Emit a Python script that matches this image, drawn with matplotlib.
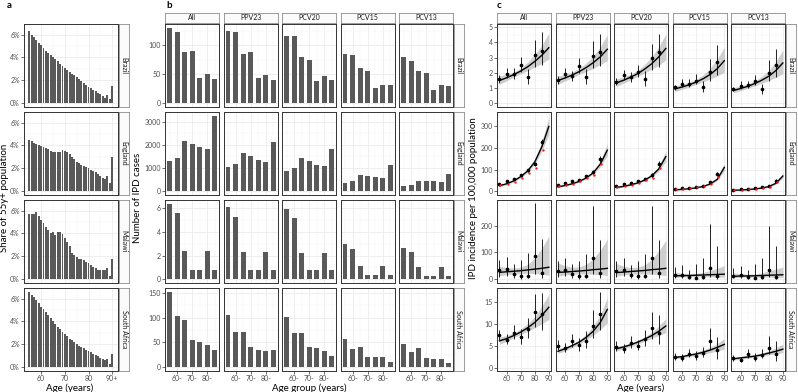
import matplotlib
matplotlib.use("Agg")
import matplotlib.pyplot as plt
import numpy as np

plt.rcParams['font.family'] = ['Lato', 'DejaVu Sans']

# ---- panel a: share of 55y+ population by single year of age ----
ages_a = list(range(55, 91))
share_brazil = [6.3, 6.0, 5.75, 5.5, 5.3, 5.1, 4.85, 4.6, 4.4, 4.2, 4.0, 3.85, 3.65, 3.45, 3.3, 3.1, 2.95, 2.75,
                2.6, 2.45, 2.3, 2.1, 1.95, 1.8, 1.6, 1.45, 1.3, 1.15, 1.05, 0.9, 0.8, 0.65, 0.5, 0.7, 0.35, 1.5]
share_england = [4.5, 4.35, 4.25, 4.15, 4.05, 3.95, 3.85, 3.75, 3.65, 3.55, 3.45, 3.4, 3.4, 3.45, 3.6, 3.55, 3.45, 3.3,
                 3.0, 2.8, 2.6, 2.45, 2.3, 2.2, 2.1, 2.0, 1.9, 1.8, 1.65, 1.5, 1.35, 1.2, 1.05, 1.35, 0.75, 3.0]
share_malawi = [5.7, 5.7, 5.7, 5.9, 5.5, 5.2, 4.9, 4.6, 4.3, 4.0, 4.1, 3.85, 4.15, 4.15, 3.95, 3.6, 3.3, 2.9,
                2.3, 2.1, 1.95, 1.8, 1.75, 1.7, 1.55, 1.4, 1.25, 1.1, 0.95, 0.85, 0.8, 0.8, 0.8, 0.95, 0.3, 1.8]
share_safrica = [6.6, 6.35, 6.1, 5.85, 5.6, 5.3, 5.05, 4.8, 4.55, 4.3, 4.05, 3.8, 3.55, 3.3, 3.1, 2.9, 2.7, 2.5,
                 2.35, 2.2, 2.05, 1.9, 1.8, 1.65, 1.55, 1.4, 1.3, 1.15, 1.05, 0.95, 0.85, 0.7, 0.6, 0.75, 0.3, 1.2]

countries = ['Brazil', 'England', 'Malawi', 'South Africa']
vaccines = ['All', 'PPV23', 'PCV20', 'PCV15', 'PCV13']

# ---- panel b: IPD cases by 5-year age group (55-, 60-, ..., 85-) ----
age_groups = ['55-', '60-', '65-', '70-', '75-', '80-', '85-']
cases_brazil = {'All': [130, 123, 88, 90, 43, 50, 41], 'PPV23': [125, 123, 84, 89, 43, 49, 40],
                'PCV20': [116, 116, 79, 74, 38, 47, 40], 'PCV15': [85, 83, 60, 55, 26, 32, 31],
                'PCV13': [79, 73, 56, 52, 22, 31, 29]}
cases_england = {'All': [1300, 1440, 2160, 2030, 1890, 1840, 3250], 'PPV23': [1030, 1160, 1650, 1500, 1360, 1240, 2120],
                 'PCV20': [890, 1020, 1440, 1310, 1140, 1100, 1820], 'PCV15': [350, 440, 680, 660, 620, 590, 1140],
                 'PCV13': [220, 280, 450, 440, 440, 400, 750]}
cases_malawi = {'All': [6.4, 5.6, 2.4, 0.8, 0.8, 2.4, 0.8], 'PPV23': [6.1, 5.3, 2.3, 0.75, 0.75, 2.3, 0.75],
                'PCV20': [5.95, 5.2, 2.25, 0.75, 0.75, 2.25, 0.75], 'PCV15': [2.95, 2.6, 1.1, 0.35, 0.35, 1.1, 0.35],
                'PCV13': [2.65, 2.3, 1.0, 0.3, 0.3, 1.0, 0.3]}
cases_safrica = {'All': [152, 104, 95, 55, 50, 44, 34], 'PPV23': [106, 71, 71, 41, 35, 33, 34],
                 'PCV20': [102, 68, 68, 40, 38, 32, 22], 'PCV15': [56, 36, 40, 21, 20, 21, 11],
                 'PCV13': [47, 31, 38, 18, 17, 16, 9]}

# ---- panel c: IPD incidence per 100,000 (points + 95% CI) and fitted curve with ribbon ----
ages_c = [55, 60, 65, 70, 75, 80, 85]
ages_fit = [55, 60, 65, 70, 75, 80, 85, 90]

inc_brazil = {'All': [1.6, 1.95, 1.9, 2.5, 1.75, 3.15, 3.45], 'PPV23': [1.55, 1.95, 1.8, 2.45, 1.75, 3.1, 3.35],
              'PCV20': [1.4, 1.85, 1.7, 2.05, 1.6, 3.0, 3.35], 'PCV15': [1.05, 1.3, 1.3, 1.5, 1.1, 2.05, 2.7],
              'PCV13': [0.95, 1.15, 1.2, 1.45, 0.95, 2.0, 2.5]}
inc_brazil_lo = {'All': [1.35, 1.65, 1.6, 2.05, 1.3, 2.4, 2.5], 'PPV23': [1.3, 1.65, 1.5, 2.0, 1.3, 2.35, 2.45],
                 'PCV20': [1.2, 1.55, 1.4, 1.7, 1.15, 2.2, 2.4], 'PCV15': [0.9, 1.1, 1.1, 1.25, 0.75, 1.45, 1.85],
                 'PCV13': [0.8, 0.95, 1.0, 1.2, 0.6, 1.45, 1.75]}
inc_brazil_hi = {'All': [1.85, 2.3, 2.3, 3.05, 2.25, 4.15, 4.65], 'PPV23': [1.8, 2.3, 2.15, 3.0, 2.25, 4.1, 4.55],
                 'PCV20': [1.65, 2.2, 2.05, 2.5, 2.1, 3.9, 4.55], 'PCV15': [1.2, 1.6, 1.6, 1.9, 1.45, 2.9, 3.8],
                 'PCV13': [1.1, 1.45, 1.5, 1.85, 1.25, 2.85, 3.55]}
fit_brazil = {'All': [1.5, 1.68, 1.88, 2.12, 2.4, 2.75, 3.15, 3.65], 'PPV23': [1.5, 1.67, 1.86, 2.08, 2.35, 2.67, 3.05, 3.55],
              'PCV20': [1.35, 1.52, 1.72, 1.95, 2.25, 2.6, 3.05, 3.6], 'PCV15': [0.95, 1.08, 1.22, 1.4, 1.62, 1.9, 2.28, 2.8],
              'PCV13': [0.85, 0.98, 1.12, 1.3, 1.52, 1.78, 2.15, 2.65]}
fit_brazil_lo = {'All': [1.25, 1.48, 1.72, 1.95, 2.15, 2.38, 2.62, 2.9], 'PPV23': [1.25, 1.47, 1.68, 1.9, 2.1, 2.3, 2.55, 2.8],
                 'PCV20': [1.12, 1.33, 1.55, 1.78, 2.0, 2.25, 2.5, 2.85], 'PCV15': [0.78, 0.92, 1.08, 1.25, 1.42, 1.6, 1.8, 2.05],
                 'PCV13': [0.7, 0.84, 0.98, 1.15, 1.32, 1.5, 1.7, 1.95]}
fit_brazil_hi = {'All': [1.8, 1.9, 2.05, 2.3, 2.7, 3.2, 3.8, 4.6], 'PPV23': [1.8, 1.9, 2.05, 2.3, 2.65, 3.1, 3.7, 4.5],
                 'PCV20': [1.62, 1.73, 1.9, 2.15, 2.55, 3.05, 3.7, 4.55], 'PCV15': [1.15, 1.25, 1.38, 1.58, 1.88, 2.3, 2.9, 3.7],
                 'PCV13': [1.05, 1.13, 1.27, 1.47, 1.77, 2.15, 2.72, 3.5]}

inc_england = {'All': [35, 45, 57, 73, 97, 127, 226], 'PPV23': [29, 37, 45, 52, 68, 88, 149],
               'PCV20': [25, 31, 38, 45, 57, 75, 127], 'PCV15': [10, 13, 16, 20, 26, 40, 78],
               'PCV13': [6, 8, 10, 13, 17, 22, 48]}
inc_england_adj = {'All': [27, 35, 43, 61, 82, 105, 190], 'PPV23': [23, 29, 34, 45, 59, 75, 126],
                   'PCV20': [18, 24, 30, 38, 50, 62, 108], 'PCV15': [8, 10, 13, 17, 22, 33, 67],
                   'PCV13': [5, 6, 8, 10, 14, 19, 42]}
inc_england_lo = {'All': [31, 40, 52, 67, 90, 118, 212], 'PPV23': [25, 33, 41, 47, 62, 80, 136],
                  'PCV20': [21, 27, 34, 40, 51, 67, 114], 'PCV15': [8, 11, 13, 17, 22, 34, 68],
                  'PCV13': [4, 6, 8, 10, 14, 18, 40]}
inc_england_hi = {'All': [39, 50, 62, 79, 104, 136, 240], 'PPV23': [33, 41, 49, 57, 74, 96, 162],
                  'PCV20': [29, 35, 42, 50, 63, 83, 140], 'PCV15': [12, 15, 19, 23, 30, 46, 88],
                  'PCV13': [8, 10, 12, 16, 20, 26, 56]}
fit_england = {'All': [25, 34, 47, 67, 94, 135, 205, 300], 'PPV23': [20, 26, 34, 45, 61, 85, 125, 190],
               'PCV20': [17, 22, 29, 38, 51, 71, 103, 160], 'PCV15': [6, 8, 11, 15, 22, 33, 55, 110],
               'PCV13': [4, 5, 7, 10, 14, 21, 36, 70]}
fit_england_lo = {'All': [21, 30, 43, 62, 87, 124, 185, 262], 'PPV23': [17, 23, 31, 42, 57, 79, 113, 165],
                  'PCV20': [14, 19, 26, 35, 47, 65, 92, 138], 'PCV15': [5, 7, 10, 13.5, 20, 30, 49, 95],
                  'PCV13': [3, 4, 6, 9, 12.5, 19, 32, 60]}
fit_england_hi = {'All': [29, 38, 51, 72, 101, 147, 228, 345], 'PPV23': [23, 29, 37, 48, 65, 92, 140, 220],
                  'PCV20': [20, 25, 32, 41, 55, 77, 115, 185], 'PCV15': [7, 9, 12, 16.5, 24, 36, 62, 128],
                  'PCV13': [5, 6, 8, 11, 15.5, 23, 40, 82]}

inc_malawi = {'All': [32, 37, 19, 10, 12, 87, 22], 'PPV23': [30, 35, 17, 10, 13, 80, 22],
              'PCV20': [30, 35, 16, 10, 13, 78, 21], 'PCV15': [14, 16, 8, 5, 7, 40, 10],
              'PCV13': [12, 14, 7, 5, 6, 35, 9]}
inc_malawi_lo = {'All': [8, 12, 3, 1, 2, 20, 3], 'PPV23': [6, 10, 2, 1, 2, 18, 3], 'PCV20': [6, 10, 2, 1, 2, 17, 3],
                 'PCV15': [3, 4, 1, 0.5, 1, 8, 1], 'PCV13': [2, 3, 1, 0.5, 1, 7, 1]}
inc_malawi_hi = {'All': [70, 82, 55, 72, 98, 285, 148], 'PPV23': [68, 80, 55, 68, 95, 275, 145],
                 'PCV20': [66, 78, 52, 66, 92, 272, 145], 'PCV15': [45, 52, 35, 58, 80, 207, 125],
                 'PCV13': [40, 50, 32, 55, 80, 200, 122]}
fit_malawi = {'All': [25, 27, 29, 31, 34, 37, 40, 44], 'PPV23': [25, 26, 28, 30, 32, 35, 37, 40],
              'PCV20': [24, 26, 28, 30, 32, 35, 37, 40], 'PCV15': [12, 12.5, 13, 14, 15, 16, 17, 18],
              'PCV13': [10, 11, 11.5, 12, 13, 14, 15, 16]}
fit_malawi_lo = {'All': [12, 16, 19, 20, 21, 20, 18, 14], 'PPV23': [11, 15, 18, 19, 19, 18, 16, 13],
                 'PCV20': [11, 15, 18, 19, 19, 18, 16, 13], 'PCV15': [5, 7, 8, 9, 9, 8, 7, 6],
                 'PCV13': [4, 6, 7, 7.5, 7.5, 7, 6, 5]}
fit_malawi_hi = {'All': [48, 43, 41, 44, 55, 78, 115, 160], 'PPV23': [60, 50, 44, 45, 55, 76, 108, 150],
                 'PCV20': [58, 48, 43, 44, 53, 73, 105, 145], 'PCV15': [26, 22, 20, 21, 25, 32, 40, 50],
                 'PCV13': [23, 20, 18, 19, 23, 30, 37, 45]}

inc_safrica = {'All': [7.35, 6.4, 8.0, 6.9, 8.85, 12.6, 12.35], 'PPV23': [5.0, 4.4, 6.0, 5.1, 6.0, 9.4, 12.3],
               'PCV20': [4.8, 4.2, 5.6, 5.0, 6.6, 9.0, 7.9], 'PCV15': [2.5, 2.2, 3.2, 2.6, 3.4, 6.0, 3.9],
               'PCV13': [2.1, 1.8, 3.1, 2.2, 2.9, 4.5, 3.2]}
inc_safrica_lo = {'All': [6.2, 5.3, 6.5, 5.4, 6.7, 9.2, 8.6], 'PPV23': [4.0, 3.5, 4.7, 3.8, 4.4, 6.7, 8.6],
                  'PCV20': [3.8, 3.3, 4.4, 3.9, 5.0, 6.6, 5.3], 'PCV15': [1.8, 1.6, 2.4, 1.8, 2.5, 4.1, 2.0],
                  'PCV13': [1.5, 1.3, 2.2, 1.5, 2.1, 3.0, 1.5]}
inc_safrica_hi = {'All': [8.5, 7.7, 9.8, 8.8, 11.4, 16.9, 17.1], 'PPV23': [6.2, 5.5, 7.6, 6.8, 8.3, 13.2, 17.2],
                  'PCV20': [6.0, 5.3, 7.2, 6.4, 8.7, 12.7, 12.0], 'PCV15': [3.3, 3.0, 4.3, 3.8, 4.8, 9.1, 7.0],
                  'PCV13': [2.9, 2.5, 4.2, 3.3, 4.2, 7.3, 6.1]}
fit_safrica = {'All': [6.1, 6.6, 7.3, 8.1, 9.1, 10.3, 11.9, 13.8], 'PPV23': [3.7, 4.3, 5.0, 5.8, 6.9, 8.3, 10.3, 13.3],
               'PCV20': [4.3, 4.7, 5.2, 5.8, 6.5, 7.3, 8.3, 9.5], 'PCV15': [2.3, 2.5, 2.8, 3.1, 3.5, 4.0, 4.6, 5.3],
               'PCV13': [2.0, 2.2, 2.4, 2.6, 2.9, 3.3, 3.7, 4.2]}
fit_safrica_lo = {'All': [5.3, 6.0, 6.8, 7.5, 8.3, 9.1, 10.0, 11.0], 'PPV23': [3.2, 3.8, 4.5, 5.3, 6.3, 7.4, 8.7, 10.2],
                  'PCV20': [3.8, 4.3, 4.8, 5.4, 6.0, 6.7, 7.3, 8.0], 'PCV15': [2.0, 2.2, 2.5, 2.8, 3.1, 3.4, 3.8, 4.2],
                  'PCV13': [1.7, 1.9, 2.1, 2.4, 2.6, 2.9, 3.1, 3.4]}
fit_safrica_hi = {'All': [7.0, 7.3, 7.9, 8.8, 10.0, 11.7, 14.0, 16.8], 'PPV23': [4.3, 4.7, 5.4, 6.3, 7.6, 9.5, 12.0, 16.0],
                  'PCV20': [4.9, 5.1, 5.6, 6.2, 7.0, 8.1, 9.5, 11.2], 'PCV15': [2.7, 2.8, 3.1, 3.5, 4.0, 4.6, 5.5, 6.6],
                  'PCV13': [2.3, 2.5, 2.7, 2.9, 3.3, 3.8, 4.5, 5.4]}

share_rows = [share_brazil, share_england, share_malawi, share_safrica]
cases_rows = [cases_brazil, cases_england, cases_malawi, cases_safrica]
inc_rows = [inc_brazil, inc_england, inc_malawi, inc_safrica]
inc_lo_rows = [inc_brazil_lo, inc_england_lo, inc_malawi_lo, inc_safrica_lo]
inc_hi_rows = [inc_brazil_hi, inc_england_hi, inc_malawi_hi, inc_safrica_hi]
fit_rows = [fit_brazil, fit_england, fit_malawi, fit_safrica]
fit_lo_rows = [fit_brazil_lo, fit_england_lo, fit_malawi_lo, fit_safrica_lo]
fit_hi_rows = [fit_brazil_hi, fit_england_hi, fit_malawi_hi, fit_safrica_hi]

# axis settings per row (limits, major ticks, minor ticks)
b_ylims = [(-6.5, 136.5), (-162, 3412), (-0.32, 6.72), (-7.6, 159.6)]
b_yticks = [[0, 50, 100], [0, 1000, 2000, 3000], [0, 2, 4, 6], [0, 50, 100, 150]]
b_yminor = [[25, 75, 125], [500, 1500, 2500], [1, 3, 5], [25, 75, 125]]
c_ylims = [(-0.23, 5.2), (-18, 367), (-15, 296), (-0.8, 18.2)]
c_yticks = [[0, 1, 2, 3, 4, 5], [0, 100, 200, 300], [0, 100, 200], [0, 5, 10, 15]]
c_yminor = [[0.5, 1.5, 2.5, 3.5, 4.5], [50, 150, 250, 350], [50, 150, 250], [2.5, 7.5, 12.5, 17.5]]

W, H = 798, 392
fig = plt.figure(figsize=(W / 100, H / 100), dpi=100)

BORDER = '#333333'
GRID = '#ebebeb'
BAR = '#595959'


def px_axes(l, t, r, b):
    return fig.add_axes([l / W, 1 - b / H, (r - l) / W, (b - t) / H])


def style(ax, xlim, ylim, xt, xminor, yt, yminor, show_x, show_y):
    ax.set_xlim(xlim)
    ax.set_ylim(ylim)
    ax.set_xticks(xt)
    ax.set_xticks(xminor, minor=True)
    ax.set_yticks(yt)
    ax.set_yticks(yminor, minor=True)
    ax.grid(which='major', color=GRID, lw=0.6)
    ax.grid(which='minor', color='#f3f3f3', lw=0.35)
    ax.set_axisbelow(True)
    for s in ax.spines.values():
        s.set_color(BORDER)
        s.set_linewidth(0.7)
    ax.tick_params(which='major', length=2, width=0.5, color=BORDER, labelsize=5,
                   labelcolor='#4d4d4d', pad=1)
    ax.tick_params(which='minor', length=0)
    ax.tick_params(labelbottom=show_x, bottom=show_x, labelleft=show_y, left=show_y)


def strip(l, t, r, b, label, vertical=False):
    s = px_axes(l, t, r, b)
    s.set_facecolor('#fbfbfb')
    s.set_xticks([])
    s.set_yticks([])
    for sp in s.spines.values():
        sp.set_color('#8c8c8c')
        sp.set_linewidth(0.6)
    s.text(0.5, 0.5, label, transform=s.transAxes, ha='center', va='center', fontsize=5,
           color='#1a1a1a', rotation=-90 if vertical else 0)


row_top = [24, 112, 200, 288]
row_h = 83

# ---- panel a ----
for i, name in enumerate(countries):
    t = row_top[i]
    ax = px_axes(24, t, 117.5, t + row_h)
    ax.bar(ages_a, share_rows[i], width=0.8, color=BAR, lw=0)
    style(ax, (52.75, 92.25), (-0.33, 6.93), [60, 70, 80, 90], [55, 65, 75, 85],
          [0, 2, 4, 6], [1, 3, 5], i == 3, True)
    ax.set_yticklabels(['0%', '2%', '4%', '6%'])
    if i == 3:
        ax.set_xticklabels(['60', '70', '80', '90+'])
    strip(119, t, 129, t + row_h, name, vertical=True)

# ---- panels b and c ----
col_w = 54.3
col_step = 58.5
xpos_b = np.arange(1, len(age_groups) + 1)
for i, name in enumerate(countries):
    t = row_top[i]
    for j, vac in enumerate(vaccines):
        # b
        l = 165 + j * col_step
        ax = px_axes(l, t, l + col_w, t + row_h)
        ax.bar(xpos_b, cases_rows[i][vac], width=0.65, color=BAR, lw=0)
        style(ax, (0.4, 7.6), b_ylims[i], [2, 4, 6], [1, 3, 5, 7], b_yticks[i], b_yminor[i],
              i == 3, j == 0)
        if i == 3:
            ax.set_xticklabels([age_groups[1], age_groups[3], age_groups[5]])
        if i == 0:
            strip(l, 13, l + col_w, 23, vac)

        # c
        l = 497 + j * col_step
        ax = px_axes(l, t, l + col_w, t + row_h)
        ax.fill_between(ages_fit, fit_lo_rows[i][vac], fit_hi_rows[i][vac], color='#bfbfbf',
                        alpha=0.75, lw=0, zorder=2)
        ax.plot(ages_fit, fit_rows[i][vac], color='black', lw=1.0, zorder=3)
        ax.vlines(ages_c, inc_lo_rows[i][vac], inc_hi_rows[i][vac], color='black', lw=0.6, zorder=4)
        ax.scatter(ages_c, inc_rows[i][vac], s=7, color='black', lw=0, zorder=5)
        if name == 'England':
            ax.scatter(np.array(ages_c) + 0.7, inc_england_adj[vac], s=3, color='#ff1a1a', lw=0, zorder=6)
        style(ax, (53.25, 91.75), c_ylims[i], [60, 70, 80, 90], [55, 65, 75, 85],
              c_yticks[i], c_yminor[i], i == 3, j == 0)
        if i == 0:
            strip(l, 13, l + col_w, 23, vac)
    strip(453.5, t, 463.5, t + row_h, name, vertical=True)
    strip(786, t, 796, t + row_h, name, vertical=True)

# ---- titles and tags ----
fig.text(70 / W, 1 - 388 / H, 'Age (years)', ha='center', va='center', fontsize=7)
fig.text(309 / W, 1 - 388 / H, 'Age group (years)', ha='center', va='center', fontsize=7)
fig.text(641 / W, 1 - 388 / H, 'Age (years)', ha='center', va='center', fontsize=7)
fig.text(5 / W, 1 - 198 / H, 'Share of 55y+ population', ha='center', va='center', fontsize=7, rotation=90)
fig.text(137 / W, 1 - 198 / H, 'Number of IPD cases', ha='center', va='center', fontsize=7, rotation=90)
fig.text(474 / W, 1 - 198 / H, 'IPD incidence per 100,000 population', ha='center', va='center',
         fontsize=7, rotation=90)
fig.text(7 / W, 1 - 6 / H, 'a', ha='left', va='center', fontsize=7, fontweight='bold')
fig.text(166 / W, 1 - 6 / H, 'b', ha='left', va='center', fontsize=7, fontweight='bold')
fig.text(497 / W, 1 - 6 / H, 'c', ha='left', va='center', fontsize=7, fontweight='bold')

fig.savefig('out.png', dpi=100)
